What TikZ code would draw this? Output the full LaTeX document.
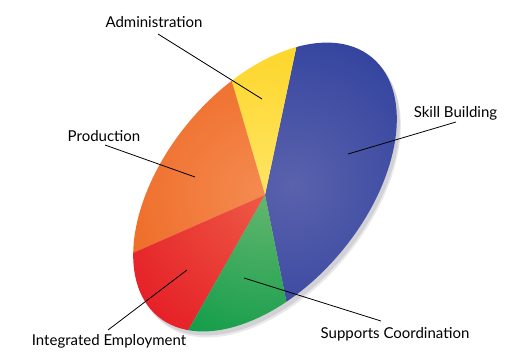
\documentclass[tikz,border=0pt]{standalone}
\usepackage{fontspec}
\setmainfont{Lato}
\definecolor{blued}{HTML}{26399A}
\definecolor{bluel}{HTML}{5A62AC}
\definecolor{yelld}{HTML}{FCD116}
\definecolor{yelll}{HTML}{FFE35E}
\definecolor{orad}{HTML}{EE6822}
\definecolor{oral}{HTML}{F48A50}
\definecolor{redd}{HTML}{E51E26}
\definecolor{redl}{HTML}{EE5844}
\definecolor{grnd}{HTML}{0C9B47}
\definecolor{grnl}{HTML}{62B66E}
\definecolor{shadowc}{HTML}{D2D2D6}
\tikzset{
  pieshape/.style={rotate around={50.5:(265,187)}},
  lbl/.style={font=\fontsize{15}{18}\selectfont, text=black, inner sep=0pt},
  leader/.style={draw=black, line width=0.8pt}
}
\newcommand\pieell{(265,187) ellipse [x radius=168pt, y radius=100pt]}
\begin{document}
\begin{tikzpicture}[x=1pt,y=-1pt]
\useasboundingbox (0,0) rectangle (526,351);
% shadow
\fill[shadowc!50, shift={(4,6)}, pieshape] \pieell;
\fill[shadowc, shift={(3,4)}, pieshape] \pieell;
% slices
\begin{scope}
  \clip[pieshape] \pieell;
  \clip (265,195) -- (306.3,0) -- (526,0) -- (526,351) -- (296.2,351) -- cycle;
  \shade[inner color=bluel, outer color=blued] (292,185) circle (210pt);
\end{scope}
\begin{scope}
  \clip[pieshape] \pieell;
  \clip (265,195) -- (208,0) -- (306.3,0) -- cycle;
  \shade[inner color=yelll, outer color=yelld] (265,180) circle (190pt);
\end{scope}
\begin{scope}
  \clip[pieshape] \pieell;
  \clip (265,195) -- (0,311.4) -- (0,0) -- (208,0) -- cycle;
  \shade[inner color=oral, outer color=orad] (260,192) circle (165pt);
\end{scope}
\begin{scope}
  \clip[pieshape] \pieell;
  \clip (265,195) -- (176.4,351) -- (0,351) -- (0,311.4) -- cycle;
  \shade[inner color=redl, outer color=redd] (262,198) circle (165pt);
\end{scope}
\begin{scope}
  \clip[pieshape] \pieell;
  \clip (265,195) -- (296.2,351) -- (176.4,351) -- cycle;
  \shade[inner color=grnl, outer color=grnd] (265,198) circle (165pt);
\end{scope}
% labels
\node[lbl, anchor=base] (adm) at (154,27) {Administration};
\node[lbl, anchor=base] (prod) at (104,141) {Production};
\node[lbl, anchor=base] (skill) at (455.5,117) {Skill Building};
\node[lbl, anchor=base] (supp) at (395,338) {Supports Coordination};
\node[lbl, anchor=base] (integ) at (109,345) {Integrated Employment};
% leader end points
\coordinate (admA) at (158,34);  \coordinate (admB) at (262,99);
\coordinate (prodA) at (105,145); \coordinate (prodB) at (195,177);
\coordinate (skillA) at (456,122); \coordinate (skillB) at (348,154);
\coordinate (suppA) at (381,321); \coordinate (suppB) at (244,278);
\coordinate (integA) at (108,330); \coordinate (integB) at (187,270);
\draw[leader] (admA) -- (admB);
\draw[leader] (prodA) -- (prodB);
\draw[leader] (skillA) -- (skillB);
\draw[leader] (suppA) -- (suppB);
\draw[leader] (integA) -- (integB);
\end{tikzpicture}
\end{document}
